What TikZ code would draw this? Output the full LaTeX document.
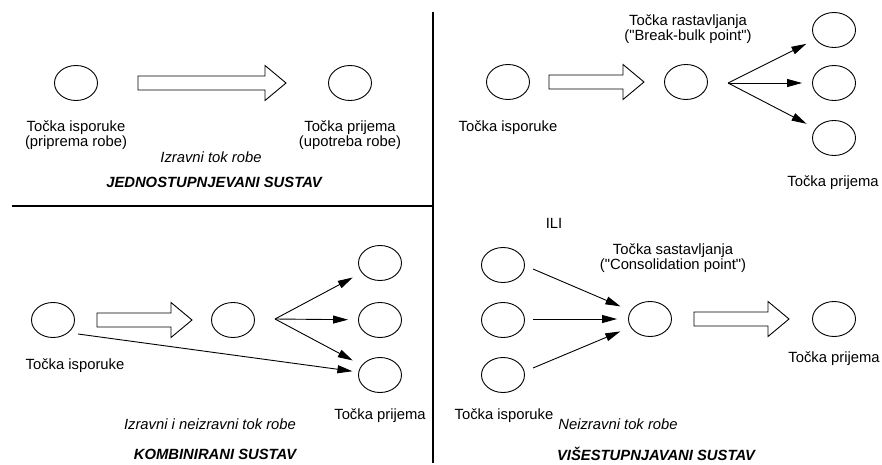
\documentclass[tikz,border=0pt]{standalone}
\usepackage{fontspec}
\setmainfont{Liberation Sans}
\usetikzlibrary{arrows.meta,shapes.geometric}

\newcommand{\velicina}{\fontsize{14.8}{13.3}\selectfont}
\newcommand{\navod}{\XeTeXglyph\XeTeXcharglyph"22\relax}
% wide hollow arrow: x start, x tip, y
\newcommand{\sirokastrelica}[3]{%
  \draw[line width=0.9pt] (#1,#3-7) -- (#2-21,#3-7) -- (#2-21,#3-17.5) -- (#2,#3)
    -- (#2-21,#3+17.5) -- (#2-21,#3+7) -- (#1,#3+7) -- cycle;}

\tikzset{
  tocka/.style={draw, ellipse, line width=0.9pt, minimum width=43pt, minimum height=35pt, inner sep=0pt},
  tok/.style={-{Triangle[length=15pt,width=8pt]}, line width=0.9pt, shorten >=10pt},
  opis/.style={font=\velicina, align=center, inner sep=0pt},
  kurziv/.style={font=\velicina\itshape, inner sep=0pt},
  naslov/.style={font=\velicina\bfseries\itshape, inner sep=0pt}
}

\begin{document}
\begin{tikzpicture}[x=1pt,y=-1pt]
  \useasboundingbox (0,0) rectangle (882,465);

  % separators
  \draw[line width=1.2pt] (12,206) -- (433,206);
  \draw[line width=1.2pt] (433,12) -- (433,463);

  % jednostupnjevani sustav
  \node[tocka] (a1) at (76,83) {};
  \node[tocka] (a2) at (350,83) {};
  \sirokastrelica{138}{286}{83}
  \node[opis] at (76,135) {Točka isporuke\\(priprema robe)};
  \node[opis] at (350,135) {Točka prijema\\(upotreba robe)};
  \node[kurziv] at (211,157) {Izravni tok robe};
  \node[naslov] at (214,182) {JEDNOSTUPNJEVANI SUSTAV};

  % rastavljanje
  \node[opis] at (688,29) {Točka rastavljanja\\(\navod Break-bulk point\navod)};
  \node[tocka] (b1) at (508,82) {};
  \sirokastrelica{549}{644}{82}
  \node[tocka] (b2) at (686,82) {};
  \coordinate (bf) at (728,83);
  \node[tocka] (b3) at (834,30) {};
  \node[tocka] (b4) at (834,83) {};
  \node[tocka] (b5) at (834,138) {};
  \foreach \n in {b3,b4,b5}
    \draw[tok] (bf) -- (\n);
  \node[opis] at (508,128) {Točka isporuke};
  \node[opis] at (833,183) {Točka prijema};
  \node[opis] at (554,223) {ILI};

  % kombinirani sustav
  \node[tocka] (c1) at (53,320) {};
  \sirokastrelica{97}{192}{320}
  \node[tocka] (c2) at (233,320) {};
  \coordinate (cf) at (275,319);
  \node[tocka] (c3) at (380,263) {};
  \node[tocka] (c4) at (380,320) {};
  \node[tocka] (c5) at (380,375) {};
  \foreach \n in {c3,c4,c5}
    \draw[tok] (cf) -- (\n);
  \coordinate (cs) at (78,334);
  \draw[tok, shorten >=6pt] (cs) -- (c5);
  \node[opis] at (75,366) {Točka isporuke};
  \node[kurziv] at (210,424) {Izravni i neizravni tok robe};
  \node[opis] at (380,416) {Točka prijema};
  \node[naslov] at (215,454) {KOMBINIRANI SUSTAV};

  % visestupnjavani sustav
  \node[opis] at (673,258) {Točka sastavljanja\\(\navod Consolidation point\navod)};
  \node[tocka] (d1) at (503,265) {};
  \node[tocka] (d2) at (503,320) {};
  \node[tocka] (d3) at (503,375) {};
  \node[tocka] (d4) at (650,319) {};
  \coordinate (ds1) at (533,269);
  \coordinate (ds2) at (533,319);
  \coordinate (ds3) at (533,368);
  \foreach \n in {ds1,ds2,ds3}
    \draw[tok, shorten >=11pt] (\n) -- (d4);
  \sirokastrelica{694}{789}{319}
  \node[tocka] (d5) at (834,319) {};
  \node[opis] at (834,359) {Točka prijema};
  \node[opis] at (504,416) {Točka isporuke};
  \node[kurziv] at (618,424) {Neizravni tok robe};
  \node[naslov] at (656,454) {VIŠESTUPNJAVANI SUSTAV};
\end{tikzpicture}
\end{document}
